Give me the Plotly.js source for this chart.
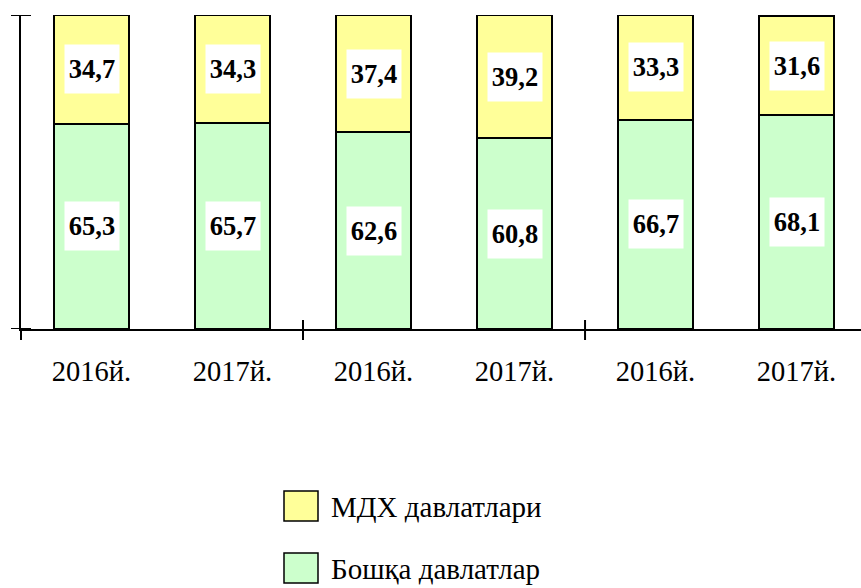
<!DOCTYPE html>
<html>
<head>
<meta charset="utf-8">
<script src="https://cdn.plot.ly/plotly-3.0.1.min.js"></script>
<style>html,body{margin:0;padding:0;background:#fff;}#chart{width:861px;height:588px;}</style>
</head>
<body>
<div id="chart"></div>
<script>
// ---- data ----
const years = ['2016й.', '2017й.', '2016й.', '2017й.', '2016й.', '2017й.'];
const mdhValues = [34.7, 34.3, 37.4, 39.2, 33.3, 31.6];
const otherValues = [65.3, 65.7, 62.6, 60.8, 66.7, 68.1];
const seriesNames = ['МДХ давлатлари', 'Бошқа давлатлар'];
const seriesColors = ['#FFFF99', '#CCFFCC'];

const xs = years.map((_, i) => i);
const fmt = v => v.toFixed(1).replace('.', ',');
const serif = 'Liberation Serif';

const traces = [
  {
    type: 'bar', x: xs, y: otherValues, name: seriesNames[1],
    marker: {color: seriesColors[1], line: {color: '#000', width: 2}},
    width: 0.53, hoverinfo: 'none'
  },
  {
    type: 'bar', x: xs, y: mdhValues, name: seriesNames[0],
    marker: {color: seriesColors[0], line: {color: '#000', width: 2}},
    width: 0.53, hoverinfo: 'none'
  }
];

const annotations = [];
xs.forEach(i => {
  annotations.push({
    x: i, y: otherValues[i] / 2, xref: 'x', yref: 'y',
    text: '<b>' + fmt(otherValues[i]) + '</b>', showarrow: false,
    font: {family: serif, size: 26.5, color: '#000'},
    bgcolor: '#fff', width: 54, height: 48, borderpad: 0
  });
  annotations.push({
    x: i, y: otherValues[i] + mdhValues[i] / 2, xref: 'x', yref: 'y',
    text: '<b>' + fmt(mdhValues[i]) + '</b>', showarrow: false,
    font: {family: serif, size: 26.5, color: '#000'},
    bgcolor: '#fff', width: 54, height: 48, borderpad: 0
  });
});

// legend (manual, to get the large swatches)
const legendRows = [
  {name: seriesNames[0], color: seriesColors[0], top: 491},
  {name: seriesNames[1], color: seriesColors[1], top: 553}
];
const plotLeft = 21, plotBottom = 329;
const shapes = [];
legendRows.forEach(r => {
  shapes.push({
    type: 'rect', xref: 'paper', yref: 'paper',
    xsizemode: 'pixel', ysizemode: 'pixel', xanchor: 0, yanchor: 0,
    x0: 284 - plotLeft, x1: 318 - plotLeft,
    y0: -(r.top - plotBottom), y1: -(r.top + 30 - plotBottom),
    fillcolor: r.color, line: {color: '#000', width: 1.5}
  });
  annotations.push({
    xref: 'paper', yref: 'paper', x: 0, y: 0, xanchor: 'left', yanchor: 'middle',
    xshift: 329 - plotLeft, yshift: -(r.top + 16 - plotBottom),
    text: r.name, showarrow: false,
    font: {family: serif, size: 29, color: '#000'}
  });
});

// axis cross ticks
const tickLine = {color: '#000', width: 2};
[100, 0].forEach(v => shapes.push({
  type: 'line', xref: 'paper', yref: 'y', xsizemode: 'pixel', xanchor: 0,
  x0: -10, x1: 10, y0: v, y1: v, line: tickLine
}));
shapes.push({
  type: 'line', xref: 'paper', yref: 'paper', ysizemode: 'pixel', yanchor: 0,
  x0: 0, x1: 0, y0: 0, y1: -11, line: tickLine
});
[1.5, 3.5].forEach(v => shapes.push({
  type: 'line', xref: 'x', yref: 'paper', ysizemode: 'pixel', yanchor: 0,
  x0: v, x1: v, y0: 9, y1: -11, line: tickLine
}));

const layout = {
  width: 861, height: 588,
  margin: {l: 21, r: 0, t: 15, b: 259},
  paper_bgcolor: '#fff', plot_bgcolor: '#fff',
  barmode: 'stack', showlegend: false,
  font: {family: serif},
  xaxis: {
    range: [-0.5, 5.457], tickvals: xs, ticktext: years,
    showgrid: false, zeroline: false, showline: true, linecolor: '#000', linewidth: 2,
    ticks: '', ticklabelstandoff: 16,
    tickfont: {family: serif, size: 28.5, color: '#000'}, fixedrange: true
  },
  yaxis: {
    range: [0, 100], showgrid: false, zeroline: false, showline: true,
    linecolor: '#000', linewidth: 2, ticks: '', showticklabels: false, fixedrange: true
  },
  annotations: annotations, shapes: shapes
};

Plotly.newPlot('chart', traces, layout, {displayModeBar: false, staticPlot: true});
</script>
</body>
</html>
